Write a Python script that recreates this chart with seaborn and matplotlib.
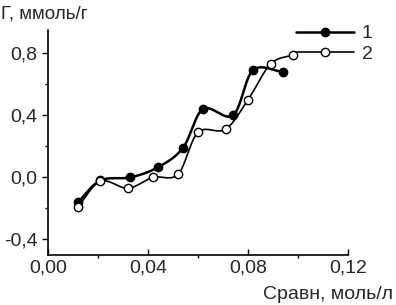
import numpy as np
import pandas as pd
import seaborn as sns
import matplotlib
matplotlib.use("Agg")
import matplotlib.pyplot as plt
from matplotlib.ticker import FuncFormatter, MultipleLocator
from matplotlib.lines import Line2D

# data
x1 = [0.012, 0.021, 0.033, 0.044, 0.054, 0.062, 0.074, 0.082, 0.094]
y1 = [-0.16, -0.02, 0.00, 0.065, 0.19, 0.44, 0.40, 0.69, 0.68]
x2 = [0.012, 0.021, 0.032, 0.042, 0.052, 0.060, 0.071, 0.080, 0.089, 0.098]
y2 = [-0.19, -0.025, -0.07, 0.00, 0.02, 0.29, 0.31, 0.50, 0.73, 0.79]
labels = ["1", "2"]


def smooth(xs, ys, n=20):
    # Catmull-Rom curve through the points, only for drawing the line
    p = np.column_stack([xs, ys]) * [1 / 0.12, 1 / 1.45]
    p = np.vstack([2 * p[0] - p[1], p, 2 * p[-1] - p[-2]])
    out = []
    for i in range(1, len(p) - 2):
        p0, p1, p2, p3 = p[i - 1], p[i], p[i + 1], p[i + 2]
        t = np.linspace(0, 1, n, endpoint=False)[:, None]
        c = 0.5 * (2 * p1 + (-p0 + p2) * t + (2 * p0 - 5 * p1 + 4 * p2 - p3) * t**2
                   + (-p0 + 3 * p1 - 3 * p2 + p3) * t**3)
        out.append(c)
    out.append(p[-2][None, :])
    out = np.vstack(out) / [1 / 0.12, 1 / 1.45]
    return out[:, 0], out[:, 1]


sns.set_style("ticks")
plt.rcParams["font.family"] = ["Liberation Sans", "DejaVu Sans"]

fig = plt.figure(figsize=(3.96, 3.05), dpi=100)
ax = fig.add_axes([0.121, 0.164, 0.758, 0.738])

sx1, sy1 = smooth(x1, y1)
sx2, sy2 = smooth(x2, y2)
line1 = pd.DataFrame({"x": sx1, "y": sy1})
line2 = pd.DataFrame({"x": sx2, "y": sy2})
sns.lineplot(data=line1, x="x", y="y", sort=False, color="black", lw=1.8, ax=ax)
sns.lineplot(data=line2, x="x", y="y", sort=False, color="black", lw=1.2, ax=ax)
ax.plot(x1, y1, "o", color="black", ms=6, zorder=3)
ax.plot(x2, y2, "o", mfc="white", mec="black", mew=1.0, ms=6, zorder=3)

ax.set_xlim(0, 0.12)
ax.set_ylim(-0.5, 0.95)
ax.xaxis.set_major_locator(MultipleLocator(0.04))
ax.xaxis.set_minor_locator(MultipleLocator(0.02))
ax.yaxis.set_major_locator(MultipleLocator(0.4))
ax.yaxis.set_minor_locator(MultipleLocator(0.2))
fmt_x = FuncFormatter(lambda v, p: f"{v:.2f}".replace(".", ","))
fmt_y = FuncFormatter(lambda v, p: f"{v:.1f}".replace(".", ","))
ax.xaxis.set_major_formatter(fmt_x)
ax.yaxis.set_major_formatter(fmt_y)
ax.tick_params(axis="both", which="major", labelsize=14, length=4, width=1, color="black")
ax.tick_params(axis="both", which="minor", length=2, width=1, color="black")
ax.tick_params(axis="x", direction="in")
for s in ["left", "bottom"]:
    ax.spines[s].set_color("black")
    ax.spines[s].set_linewidth(1.2)
sns.despine(ax=ax)
ax.set_xlabel("")
ax.set_ylabel("")

fig.text(0.003, 0.955, "Г, ммоль/г", fontsize=13.5, ha="left", va="center")
fig.text(0.992, 0.033, "Сравн, моль/л", fontsize=14, ha="right", va="center")

handles = [
    Line2D([], [], color="black", lw=1.8, marker="o", ms=6),
    Line2D([], [], color="black", lw=1.2, marker="o", ms=6, mfc="white", mec="black"),
]
ax.legend(handles, labels, loc="upper right", bbox_to_anchor=(1.14, 1.1), frameon=False,
          fontsize=14, handlelength=3.0, handletextpad=0.4, labelspacing=0.15)

fig.savefig("out.png", dpi=100)
